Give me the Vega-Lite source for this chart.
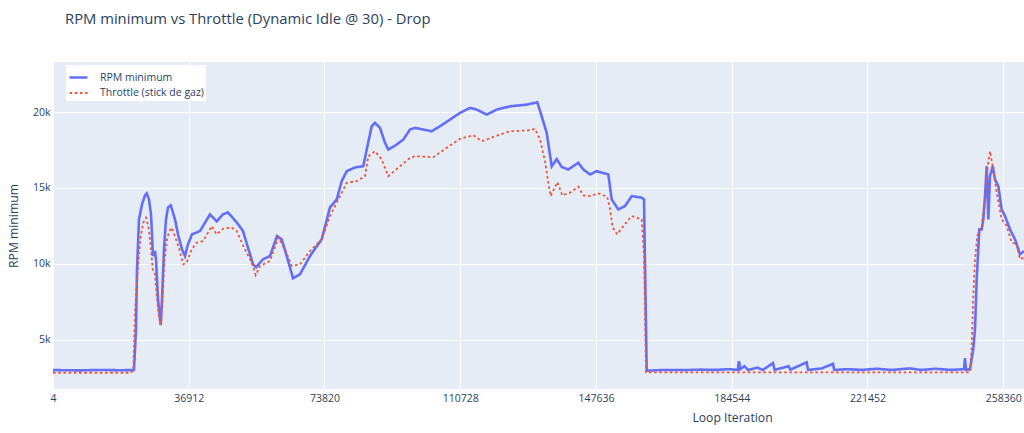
{
"$schema": "https://vega.github.io/schema/vega-lite/v6.json",
"width": 971, "height": 327,
"autosize": {"type": "none"},
"padding": {"left": 53, "top": 62, "right": 0, "bottom": 44},
"background": "white",
"title": {"text": "RPM minimum vs Throttle (Dynamic Idle @ 30) - Drop", "anchor": "start", "frame": "group", "dx": 12, "offset": 35, "fontSize": 14.8, "font": "Open Sans", "fontWeight": "normal", "color": "#2a3f5f"},
"config": {"view": {"fill": "#E5ECF6", "stroke": null}, "font": "Open Sans"},
"data": {"values": [
{"s":"RPM minimum","i":4,"v":2990},{"s":"RPM minimum","i":7345,"v":2970},{"s":"RPM minimum","i":12783,"v":3000},{"s":"RPM minimum","i":18221,"v":2980},{"s":"RPM minimum","i":21212,"v":2990},{"s":"RPM minimum","i":22028,"v":3000},{"s":"RPM minimum","i":22572,"v":5691},{"s":"RPM minimum","i":22844,"v":9638},{"s":"RPM minimum","i":23387,"v":12928},{"s":"RPM minimum","i":24203,"v":13914},{"s":"RPM minimum","i":25019,"v":14507},{"s":"RPM minimum","i":25481,"v":14638},{"s":"RPM minimum","i":26106,"v":14243},{"s":"RPM minimum","i":26650,"v":13257},{"s":"RPM minimum","i":27194,"v":10513},{"s":"RPM minimum","i":27738,"v":10842},{"s":"RPM minimum","i":28010,"v":10296},{"s":"RPM minimum","i":28554,"v":7664},{"s":"RPM minimum","i":29288,"v":5954},{"s":"RPM minimum","i":29641,"v":7664},{"s":"RPM minimum","i":30185,"v":10954},{"s":"RPM minimum","i":30729,"v":12928},{"s":"RPM minimum","i":31273,"v":13717},{"s":"RPM minimum","i":32007,"v":13849},{"s":"RPM minimum","i":32360,"v":13585},{"s":"RPM minimum","i":33176,"v":12928},{"s":"RPM minimum","i":33992,"v":11941},{"s":"RPM minimum","i":35079,"v":10954},{"s":"RPM minimum","i":35895,"v":10513},{"s":"RPM minimum","i":36711,"v":11283},{"s":"RPM minimum","i":37798,"v":11941},{"s":"RPM minimum","i":39973,"v":12158},{"s":"RPM minimum","i":42692,"v":13257},{"s":"RPM minimum","i":44514,"v":12796},{"s":"RPM minimum","i":46227,"v":13257},{"s":"RPM minimum","i":47587,"v":13388},{"s":"RPM minimum","i":49952,"v":12730},{"s":"RPM minimum","i":51665,"v":12158},{"s":"RPM minimum","i":54384,"v":9967},{"s":"RPM minimum","i":55200,"v":9770},{"s":"RPM minimum","i":57103,"v":10296},{"s":"RPM minimum","i":59006,"v":10513},{"s":"RPM minimum","i":60910,"v":11829},{"s":"RPM minimum","i":62188,"v":11612},{"s":"RPM minimum","i":63547,"v":10513},{"s":"RPM minimum","i":65260,"v":9046},{"s":"RPM minimum","i":67163,"v":9309},{"s":"RPM minimum","i":69882,"v":10513},{"s":"RPM minimum","i":73064,"v":11612},{"s":"RPM minimum","i":75320,"v":13717},{"s":"RPM minimum","i":77142,"v":14243},{"s":"RPM minimum","i":78502,"v":15447},{"s":"RPM minimum","i":79861,"v":16105},{"s":"RPM minimum","i":82118,"v":16349},{"s":"RPM minimum","i":84375,"v":16434},{"s":"RPM minimum","i":85300,"v":17533},{"s":"RPM minimum","i":86659,"v":19066},{"s":"RPM minimum","i":87556,"v":19289},{"s":"RPM minimum","i":88915,"v":18961},{"s":"RPM minimum","i":90275,"v":17974},{"s":"RPM minimum","i":91172,"v":17533},{"s":"RPM minimum","i":93456,"v":17862},{"s":"RPM minimum","i":95251,"v":18191},{"s":"RPM minimum","i":97072,"v":18849},{"s":"RPM minimum","i":98432,"v":18961},{"s":"RPM minimum","i":100689,"v":18849},{"s":"RPM minimum","i":102973,"v":18737},{"s":"RPM minimum","i":105229,"v":19066},{"s":"RPM minimum","i":107948,"v":19507},{"s":"RPM minimum","i":110667,"v":19947},{"s":"RPM minimum","i":113386,"v":20276},{"s":"RPM minimum","i":115208,"v":20164},{"s":"RPM minimum","i":117927,"v":19836},{"s":"RPM minimum","i":120646,"v":20164},{"s":"RPM minimum","i":124262,"v":20382},{"s":"RPM minimum","i":128803,"v":20493},{"s":"RPM minimum","i":131685,"v":20645},{"s":"RPM minimum","i":132882,"v":19724},{"s":"RPM minimum","i":134241,"v":18632},{"s":"RPM minimum","i":135601,"v":16420},{"s":"RPM minimum","i":136960,"v":16900},{"s":"RPM minimum","i":138320,"v":16380},{"s":"RPM minimum","i":140114,"v":16217},{"s":"RPM minimum","i":142833,"v":16658},{"s":"RPM minimum","i":144193,"v":16217},{"s":"RPM minimum","i":146014,"v":15888},{"s":"RPM minimum","i":147836,"v":16105},{"s":"RPM minimum","i":150990,"v":15888},{"s":"RPM minimum","i":151915,"v":14243},{"s":"RPM minimum","i":153709,"v":13585},{"s":"RPM minimum","i":155531,"v":13803},{"s":"RPM minimum","i":157356,"v":14460},{"s":"RPM minimum","i":160072,"v":14355},{"s":"RPM minimum","i":160697,"v":14243},{"s":"RPM minimum","i":161431,"v":2947},{"s":"RPM minimum","i":166000,"v":3000},{"s":"RPM minimum","i":172000,"v":2990},{"s":"RPM minimum","i":176000,"v":3020},{"s":"RPM minimum","i":180000,"v":3000},{"s":"RPM minimum","i":184000,"v":3050},{"s":"RPM minimum","i":186200,"v":3000},{"s":"RPM minimum","i":186500,"v":3580},{"s":"RPM minimum","i":186900,"v":3050},{"s":"RPM minimum","i":188000,"v":3250},{"s":"RPM minimum","i":189000,"v":3000},{"s":"RPM minimum","i":191500,"v":3150},{"s":"RPM minimum","i":193000,"v":3000},{"s":"RPM minimum","i":195772,"v":3450},{"s":"RPM minimum","i":196200,"v":3000},{"s":"RPM minimum","i":200000,"v":3250},{"s":"RPM minimum","i":200500,"v":3020},{"s":"RPM minimum","i":204926,"v":3500},{"s":"RPM minimum","i":205300,"v":3000},{"s":"RPM minimum","i":209000,"v":3100},{"s":"RPM minimum","i":212086,"v":3400},{"s":"RPM minimum","i":212400,"v":3000},{"s":"RPM minimum","i":216000,"v":3050},{"s":"RPM minimum","i":220000,"v":3000},{"s":"RPM minimum","i":224000,"v":3080},{"s":"RPM minimum","i":228000,"v":3000},{"s":"RPM minimum","i":233000,"v":3100},{"s":"RPM minimum","i":236000,"v":3000},{"s":"RPM minimum","i":240000,"v":3080},{"s":"RPM minimum","i":244000,"v":3000},{"s":"RPM minimum","i":247700,"v":3050},{"s":"RPM minimum","i":247977,"v":3780},{"s":"RPM minimum","i":248249,"v":3000},{"s":"RPM minimum","i":249336,"v":3050},{"s":"RPM minimum","i":250234,"v":4375},{"s":"RPM minimum","i":250696,"v":5691},{"s":"RPM minimum","i":251158,"v":8980},{"s":"RPM minimum","i":251865,"v":12270},{"s":"RPM minimum","i":252518,"v":12270},{"s":"RPM minimum","i":252953,"v":12928},{"s":"RPM minimum","i":253415,"v":14460},{"s":"RPM minimum","i":253877,"v":16434},{"s":"RPM minimum","i":254312,"v":12928},{"s":"RPM minimum","i":254774,"v":15776},{"s":"RPM minimum","i":255508,"v":16434},{"s":"RPM minimum","i":256134,"v":15559},{"s":"RPM minimum","i":257031,"v":15118},{"s":"RPM minimum","i":257956,"v":13585},{"s":"RPM minimum","i":258853,"v":13145},{"s":"RPM minimum","i":260212,"v":12270},{"s":"RPM minimum","i":261572,"v":11612},{"s":"RPM minimum","i":262931,"v":10625},{"s":"RPM minimum","i":264019,"v":10842},
{"s":"Throttle (stick de gaz)","i":4,"v":2816},{"s":"Throttle (stick de gaz)","i":21212,"v":2816},{"s":"Throttle (stick de gaz)","i":21838,"v":2993},{"s":"Throttle (stick de gaz)","i":22300,"v":6809},{"s":"Throttle (stick de gaz)","i":23197,"v":10079},{"s":"Throttle (stick de gaz)","i":23850,"v":11829},{"s":"Throttle (stick de gaz)","i":24557,"v":12710},{"s":"Throttle (stick de gaz)","i":25291,"v":13039},{"s":"Throttle (stick de gaz)","i":25916,"v":12487},{"s":"Throttle (stick de gaz)","i":26569,"v":11171},{"s":"Throttle (stick de gaz)","i":27112,"v":9638},{"s":"Throttle (stick de gaz)","i":27738,"v":9309},{"s":"Throttle (stick de gaz)","i":28200,"v":7882},{"s":"Throttle (stick de gaz)","i":28907,"v":6349},{"s":"Throttle (stick de gaz)","i":29288,"v":6020},{"s":"Throttle (stick de gaz)","i":29723,"v":7224},{"s":"Throttle (stick de gaz)","i":30266,"v":10079},{"s":"Throttle (stick de gaz)","i":30919,"v":11500},{"s":"Throttle (stick de gaz)","i":31626,"v":12158},{"s":"Throttle (stick de gaz)","i":32278,"v":12382},{"s":"Throttle (stick de gaz)","i":33176,"v":11829},{"s":"Throttle (stick de gaz)","i":34345,"v":10954},{"s":"Throttle (stick de gaz)","i":35433,"v":9967},{"s":"Throttle (stick de gaz)","i":36357,"v":10079},{"s":"Throttle (stick de gaz)","i":37717,"v":10954},{"s":"Throttle (stick de gaz)","i":39076,"v":11395},{"s":"Throttle (stick de gaz)","i":40871,"v":11500},{"s":"Throttle (stick de gaz)","i":43155,"v":12487},{"s":"Throttle (stick de gaz)","i":44514,"v":11941},{"s":"Throttle (stick de gaz)","i":46309,"v":12316},{"s":"Throttle (stick de gaz)","i":48593,"v":12382},{"s":"Throttle (stick de gaz)","i":49952,"v":12158},{"s":"Throttle (stick de gaz)","i":51747,"v":11171},{"s":"Throttle (stick de gaz)","i":54031,"v":10079},{"s":"Throttle (stick de gaz)","i":55118,"v":9243},{"s":"Throttle (stick de gaz)","i":56287,"v":9855},{"s":"Throttle (stick de gaz)","i":59006,"v":10184},{"s":"Throttle (stick de gaz)","i":61263,"v":11724},{"s":"Throttle (stick de gaz)","i":63085,"v":10954},{"s":"Throttle (stick de gaz)","i":64907,"v":9855},{"s":"Throttle (stick de gaz)","i":67163,"v":9967},{"s":"Throttle (stick de gaz)","i":69882,"v":10842},{"s":"Throttle (stick de gaz)","i":73064,"v":11612},{"s":"Throttle (stick de gaz)","i":75320,"v":13145},{"s":"Throttle (stick de gaz)","i":78039,"v":14460},{"s":"Throttle (stick de gaz)","i":79861,"v":15342},{"s":"Throttle (stick de gaz)","i":82580,"v":15447},{"s":"Throttle (stick de gaz)","i":84837,"v":15776},{"s":"Throttle (stick de gaz)","i":85735,"v":17092},{"s":"Throttle (stick de gaz)","i":87556,"v":17421},{"s":"Throttle (stick de gaz)","i":89378,"v":16875},{"s":"Throttle (stick de gaz)","i":91172,"v":15776},{"s":"Throttle (stick de gaz)","i":94353,"v":16434},{"s":"Throttle (stick de gaz)","i":97072,"v":16987},{"s":"Throttle (stick de gaz)","i":98432,"v":17092},{"s":"Throttle (stick de gaz)","i":103408,"v":17026},{"s":"Throttle (stick de gaz)","i":107051,"v":17645},{"s":"Throttle (stick de gaz)","i":110667,"v":18237},{"s":"Throttle (stick de gaz)","i":114284,"v":18474},{"s":"Throttle (stick de gaz)","i":116568,"v":18079},{"s":"Throttle (stick de gaz)","i":121543,"v":18520},{"s":"Throttle (stick de gaz)","i":124262,"v":18737},{"s":"Throttle (stick de gaz)","i":129700,"v":18803},{"s":"Throttle (stick de gaz)","i":131060,"v":18895},{"s":"Throttle (stick de gaz)","i":132419,"v":18191},{"s":"Throttle (stick de gaz)","i":133779,"v":16763},{"s":"Throttle (stick de gaz)","i":134677,"v":15342},{"s":"Throttle (stick de gaz)","i":135329,"v":14460},{"s":"Throttle (stick de gaz)","i":137123,"v":15382},{"s":"Throttle (stick de gaz)","i":138483,"v":14507},{"s":"Throttle (stick de gaz)","i":140576,"v":14684},{"s":"Throttle (stick de gaz)","i":142833,"v":15079},{"s":"Throttle (stick de gaz)","i":144193,"v":14507},{"s":"Throttle (stick de gaz)","i":146014,"v":14460},{"s":"Throttle (stick de gaz)","i":148271,"v":14638},{"s":"Throttle (stick de gaz)","i":150718,"v":14421},{"s":"Throttle (stick de gaz)","i":151452,"v":13585},{"s":"Throttle (stick de gaz)","i":152186,"v":12382},{"s":"Throttle (stick de gaz)","i":153437,"v":11941},{"s":"Throttle (stick de gaz)","i":155069,"v":12487},{"s":"Throttle (stick de gaz)","i":157356,"v":13145},{"s":"Throttle (stick de gaz)","i":160072,"v":12928},{"s":"Throttle (stick de gaz)","i":160697,"v":10513},{"s":"Throttle (stick de gaz)","i":161241,"v":2842},{"s":"Throttle (stick de gaz)","i":200000,"v":2842},{"s":"Throttle (stick de gaz)","i":249336,"v":2842},{"s":"Throttle (stick de gaz)","i":249799,"v":4592},{"s":"Throttle (stick de gaz)","i":250234,"v":7882},{"s":"Throttle (stick de gaz)","i":250696,"v":10296},{"s":"Throttle (stick de gaz)","i":251321,"v":11829},{"s":"Throttle (stick de gaz)","i":252518,"v":12487},{"s":"Throttle (stick de gaz)","i":253415,"v":14243},{"s":"Throttle (stick de gaz)","i":254149,"v":16434},{"s":"Throttle (stick de gaz)","i":254774,"v":17421},{"s":"Throttle (stick de gaz)","i":255672,"v":16217},{"s":"Throttle (stick de gaz)","i":256596,"v":14684},{"s":"Throttle (stick de gaz)","i":257956,"v":12928},{"s":"Throttle (stick de gaz)","i":259315,"v":12487},{"s":"Throttle (stick de gaz)","i":260675,"v":11395},{"s":"Throttle (stick de gaz)","i":262034,"v":11283},{"s":"Throttle (stick de gaz)","i":262931,"v":10296},{"s":"Throttle (stick de gaz)","i":264019,"v":10400}
]},
"mark": {"type": "line", "clip": true},
"encoding": {
 "x": {"field": "i", "type": "quantitative", "scale": {"domain": [4, 264019], "nice": false, "zero": false},
   "axis": {"values": [4,36912,73820,110728,147636,184544,221452,258360], "format": "d", "title": "Loop Iteration", "titleX": 679, "titleY": 28, "titleBaseline": "middle", "titleFontSize": 12.2, "titleFontWeight": "normal", "titleColor": "#2a3f5f", "labelFontSize": 10.5, "labelColor": "#2a3f5f", "labelPadding": 4, "ticks": false, "domain": false, "gridColor": "white", "gridWidth": 1, "labelFlush": false}},
 "y": {"field": "v", "type": "quantitative", "scale": {"domain": [1743, 23303], "nice": false, "zero": false},
   "axis": {"values": [5000,10000,15000,20000], "format": "~s", "title": "RPM minimum", "titleX": -40, "titleY": 163.5, "titleAngle": 270, "titleBaseline": "middle", "titleFontSize": 12.2, "titleFontWeight": "normal", "titleColor": "#2a3f5f", "labelFontSize": 10.5, "labelColor": "#2a3f5f", "labelPadding": 3, "ticks": false, "domain": false, "gridColor": "white", "gridWidth": 1}},
 "color": {"field": "s", "type": "nominal", "scale": {"domain": ["RPM minimum", "Throttle (stick de gaz)"], "range": ["#636EFA", "#EF553B"]},
   "legend": {"orient": "none", "legendX": 13, "legendY": 3, "fillColor": "white", "padding": 2, "title": null, "symbolType": "stroke", "symbolSize": 324, "symbolStrokeWidth": 2, "labelFontSize": 10.5, "labelColor": "#2a3f5f", "rowPadding": -2, "labelOffset": 11}},
 "strokeDash": {"field": "s", "type": "nominal", "scale": {"domain": ["RPM minimum", "Throttle (stick de gaz)"], "range": [[1, 0], [2.6, 2.6]]},
   "legend": {"orient": "none", "legendX": 13, "legendY": 3, "fillColor": "white", "padding": 2, "title": null, "symbolType": "stroke", "symbolSize": 324, "symbolStrokeWidth": 2, "labelFontSize": 10.5, "labelColor": "#2a3f5f", "rowPadding": -2, "labelOffset": 11}},
 "strokeWidth": {"field": "s", "type": "nominal", "scale": {"domain": ["RPM minimum", "Throttle (stick de gaz)"], "range": [2.6, 1.8]}, "legend": null}
}
}
